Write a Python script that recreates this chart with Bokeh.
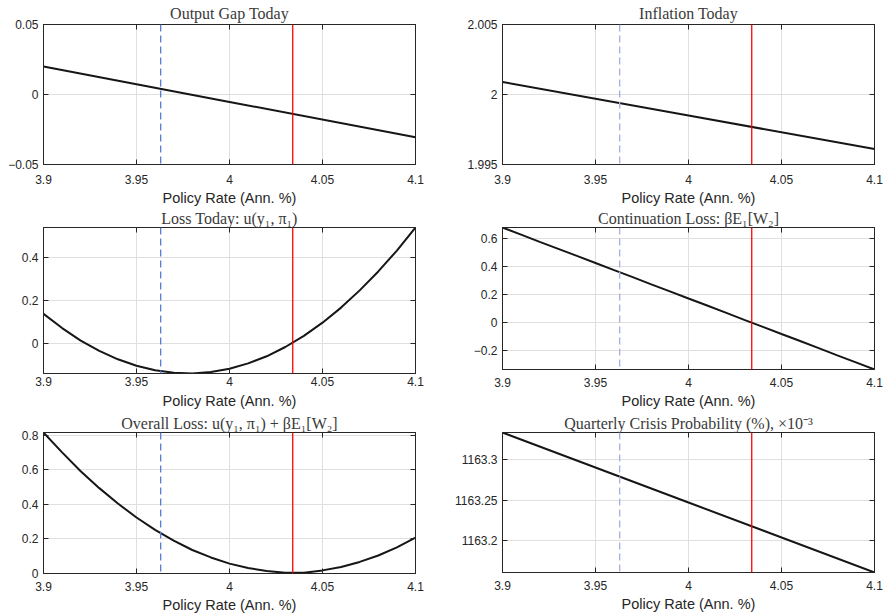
from bokeh.plotting import figure
from bokeh.models import Range1d, FixedTicker, LinearAxis, Span, Title
from bokeh.layouts import column, row
from bokeh.embed import file_html
from bokeh.resources import INLINE

# ---------------- data ----------------
rate_grid = [3.90, 3.91, 3.92, 3.93, 3.94, 3.95, 3.96, 3.97, 3.98, 3.99, 4.00,
             4.01, 4.02, 4.03, 4.04, 4.05, 4.06, 4.07, 4.08, 4.09, 4.10]
loss_today = [0.139, 0.073, 0.015, -0.033, -0.072, -0.102, -0.123, -0.135, -0.138, -0.131, -0.116,
              -0.091, -0.058, -0.015, 0.037, 0.098, 0.168, 0.248, 0.336, 0.433, 0.540]
cont_loss = [0.679, 0.628, 0.577, 0.527, 0.477, 0.426, 0.375, 0.325, 0.274, 0.224, 0.173,
             0.123, 0.072, 0.021, -0.029, -0.080, -0.130, -0.181, -0.232, -0.282, -0.333]
overall_loss = [0.816, 0.701, 0.592, 0.494, 0.405, 0.324, 0.252, 0.190, 0.136, 0.093, 0.057,
                0.032, 0.014, 0.004, 0.005, 0.018, 0.038, 0.067, 0.104, 0.151, 0.207]

rate_line = [3.90, 4.00, 4.10]
output_gap = [0.0200, -0.0053, -0.0305]
inflation = [2.0009, 1.9985, 1.9961]
crisis_prob = [1163.334, 1163.247, 1163.160]

rate_dashed = 3.963
rate_red = 4.034

x_ticks = [3.9, 3.95, 4.0, 4.05, 4.1]
x_tick_labels = ["3.9", "3.95", "4", "4.05", "4.1"]

gap_ticks = [-0.05, 0.0, 0.05]
gap_labels = ["\u22120.05", "0", "0.05"]
infl_ticks = [1.995, 2.0, 2.005]
infl_labels = ["1.995", "2", "2.005"]
lt_ticks = [0.0, 0.2, 0.4]
lt_labels = ["0", "0.2", "0.4"]
cl_ticks = [-0.2, 0.0, 0.2, 0.4, 0.6]
cl_labels = ["\u22120.2", "0", "0.2", "0.4", "0.6"]
ol_ticks = [0.0, 0.2, 0.4, 0.6, 0.8]
ol_labels = ["0", "0.2", "0.4", "0.6", "0.8"]
cp_ticks = [1163.2, 1163.25, 1163.3]
cp_labels = ["1163.2", "1163.25", "1163.3"]

titles = ["Output Gap Today",
          "Inflation Today",
          "Loss Today: u(y\u2081, \u03c0\u2081)",
          "Continuation Loss: \u03b2E\u2081[W\u2082]",
          "Overall Loss: u(y\u2081, \u03c0\u2081) + \u03b2E\u2081[W\u2082]",
          "Quarterly Crisis Probability (%), \u00d710\u207b\u00b3"]
x_label = "Policy Rate (Ann. %)"

AX = "#262626"
GRID = "#dfdfdf"
TITLE_C = "#3a3a3a"
FW = 372


def panel(title, xs, ys, ylim, yt, ytl, left, right, top, fh, bottom,
          dash_color, tick_standoff=8, title_standoff=3, xlab_standoff=2):
    p = figure(frame_width=FW, frame_height=fh,
               min_border_left=left, min_border_right=right,
               min_border_top=top, min_border_bottom=bottom,
               x_range=Range1d(3.9, 4.1), y_range=Range1d(*ylim),
               output_backend="svg", toolbar_location=None, title=None)

    xt = FixedTicker(ticks=x_ticks)
    ytk = FixedTicker(ticks=yt)
    xo = dict(zip(x_ticks, x_tick_labels))
    yo = dict(zip(yt, ytl))

    for ax in p.xaxis:
        ax.ticker = xt
        ax.major_label_overrides = xo
        ax.major_label_standoff = tick_standoff
    for ax in p.yaxis:
        ax.ticker = ytk
        ax.major_label_overrides = yo
        ax.major_label_standoff = 5
    for ax in p.axis:
        ax.major_label_text_font = "Liberation Sans"
        ax.major_label_text_font_size = "12px"
        ax.major_label_text_color = AX
        ax.axis_line_color = AX
        ax.major_tick_line_color = AX
        ax.major_tick_in = 5
        ax.major_tick_out = 0
        ax.minor_tick_line_color = None

    top_ax = LinearAxis(ticker=xt, major_label_text_font_size="1px",
                        major_label_text_color=None,
                        major_label_standoff=0, major_tick_in=5, major_tick_out=0,
                        minor_tick_line_color=None, axis_line_color=AX,
                        major_tick_line_color=AX)
    right_ax = LinearAxis(ticker=ytk, major_label_text_font_size="1px",
                          major_label_text_color=None,
                          major_label_standoff=0, major_tick_in=5, major_tick_out=0,
                          minor_tick_line_color=None, axis_line_color=AX,
                          major_tick_line_color=AX)
    p.add_layout(top_ax, "above")
    p.add_layout(right_ax, "right")

    p.add_layout(Title(text=title, align="center", text_font="Liberation Serif",
                       text_font_size="16px", text_font_style="normal",
                       text_color=TITLE_C, standoff=title_standoff), "above")
    p.add_layout(Title(text=x_label, align="center", text_font="Liberation Sans",
                       text_font_size="14.5px", text_font_style="normal",
                       text_color=AX, standoff=xlab_standoff), "below")

    p.xgrid.ticker = xt
    p.ygrid.ticker = ytk
    p.grid.grid_line_color = GRID
    p.grid.grid_line_width = 1
    p.outline_line_color = AX
    p.outline_line_width = 1
    p.background_fill_color = "white"
    p.border_fill_color = "white"

    p.line(xs, ys, line_color="#161616", line_width=2)
    p.add_layout(Span(location=rate_dashed, dimension="height", line_color=dash_color,
                      line_width=1.3, line_dash="7 4"))
    p.add_layout(Span(location=rate_red, dimension="height", line_color="#ff0000",
                      line_width=1.3))
    return p


L_DASH = "#5a7fd2"
R_DASH = "#a3b1e3"

p1 = panel(titles[0], rate_line, output_gap, (-0.05, 0.05), gap_ticks, gap_labels,
           43, 28, 24, 140, 42, L_DASH, tick_standoff=10, title_standoff=5, xlab_standoff=2)
p2 = panel(titles[1], rate_line, inflation, (1.995, 2.005), infl_ticks, infl_labels,
           59, 12, 24, 140, 42, R_DASH, tick_standoff=10, title_standoff=5, xlab_standoff=2)
p3 = panel(titles[2], rate_grid, loss_today, (-0.138, 0.54), lt_ticks, lt_labels,
           43, 28, 21, 146, 39, L_DASH, tick_standoff=3, title_standoff=2, xlab_standoff=5)
p4 = panel(titles[3], rate_grid, cont_loss, (-0.333, 0.679), cl_ticks, cl_labels,
           59, 12, 21, 142, 43, R_DASH, tick_standoff=8, title_standoff=2, xlab_standoff=3)
p5 = panel(titles[4], rate_grid, overall_loss, (0.0, 0.816), ol_ticks, ol_labels,
           43, 28, 20, 141, 43, L_DASH, tick_standoff=8, title_standoff=1, xlab_standoff=2)
p6 = panel(titles[5], rate_line, crisis_prob, (1163.16, 1163.334), cp_ticks, cp_labels,
           59, 12, 20, 140, 44, R_DASH, tick_standoff=8, title_standoff=1, xlab_standoff=2)

layout = column(row(p1, p2), row(p3, p4), row(p5, p6))

with open("out.html", "w") as f:
    f.write(file_html(layout, INLINE, "Policy rate"))
